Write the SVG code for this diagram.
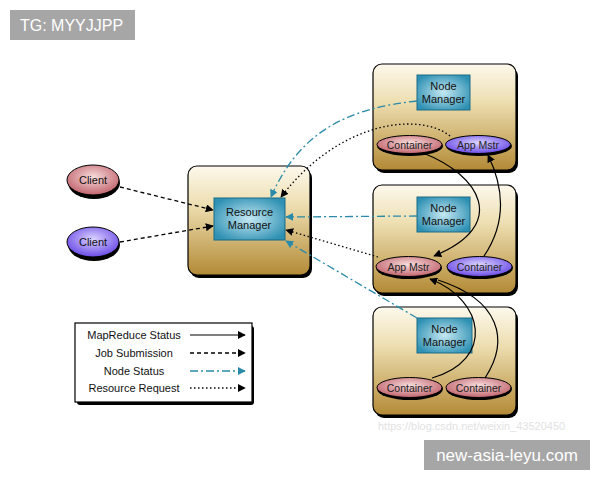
<svg xmlns="http://www.w3.org/2000/svg" width="600" height="480" viewBox="0 0 600 480">
<defs>
<linearGradient id="gBox" x1="0" y1="0" x2="0" y2="1">
<stop offset="0" stop-color="#fcf8ec"/>
<stop offset="0.35" stop-color="#eedfb2"/>
<stop offset="1" stop-color="#b38a36"/>
</linearGradient>
<radialGradient id="gTeal" cx="0.5" cy="0.5" r="0.6">
<stop offset="0" stop-color="#c4e8f2"/>
<stop offset="1" stop-color="#2e90b3"/>
</radialGradient>
<radialGradient id="gPink" cx="0.5" cy="0.4" r="0.6">
<stop offset="0" stop-color="#f7dcdc"/>
<stop offset="1" stop-color="#c1646d"/>
</radialGradient>
<radialGradient id="gPurple" cx="0.5" cy="0.4" r="0.6">
<stop offset="0" stop-color="#dcd4ff"/>
<stop offset="1" stop-color="#6a4ae6"/>
</radialGradient>
<marker id="aB" viewBox="0 0 10 10" refX="9" refY="5" markerWidth="8" markerHeight="8" markerUnits="userSpaceOnUse" orient="auto">
<path d="M0,0 L10,5 L0,10 Z" fill="#000"/>
</marker>
<marker id="aT" viewBox="0 0 10 10" refX="9" refY="5" markerWidth="8" markerHeight="8" markerUnits="userSpaceOnUse" orient="auto">
<path d="M0,0 L10,5 L0,10 Z" fill="#2a8aa8"/>
</marker>
</defs>
<style>
.box{fill:url(#gBox);stroke:#000;stroke-width:1.2}
.shadow{fill:#000}
.nm{fill:url(#gTeal);stroke:#1d6a85;stroke-width:1}
.pink{fill:url(#gPink);stroke:#000;stroke-width:1}
.purple{fill:url(#gPurple);stroke:#000;stroke-width:1}
.t{font-family:"Liberation Sans",Arial,sans-serif;font-size:11px;fill:#111;text-anchor:middle}
.ts{font-family:"Liberation Sans",Arial,sans-serif;font-size:10.5px;fill:#222;text-anchor:middle}
.solid{fill:none;stroke:#000;stroke-width:1.2}
.dash{fill:none;stroke:#000;stroke-width:1.3;stroke-dasharray:4 3}
.dot{fill:none;stroke:#000;stroke-width:1.3;stroke-dasharray:1.5 2.5}
.dd{fill:none;stroke:#2a8aa8;stroke-width:1.3;stroke-dasharray:8 3 2 3}
.wm{font-family:"Liberation Sans",Arial,sans-serif;fill:#fff}
</style>
<rect width="600" height="480" fill="#fff"/>

<g id="watermark-top">
<rect x="10" y="10" width="125" height="30" fill="#a6a6a6"/>
<text class="wm" x="20" y="31" font-size="16">TG: MYYJJPP</text>
</g>

<g id="resource-manager">
<rect class="shadow" x="190" y="169" width="122" height="109" rx="9"/>
<rect class="box" x="188" y="166" width="122" height="109" rx="9"/>
<rect class="nm" x="214" y="198" width="71" height="42"/>
<text class="t" x="249.5" y="216">Resource</text>
<text class="t" x="249.5" y="229">Manager</text>
</g>

<g id="client-1">
<ellipse class="shadow" cx="94" cy="183" rx="26" ry="16"/>
<ellipse class="pink" cx="93" cy="180" rx="26" ry="15"/>
<text class="t" x="93" y="184">Client</text>
</g>
<g id="client-2">
<ellipse class="shadow" cx="94" cy="245" rx="26" ry="16"/>
<ellipse class="purple" cx="93" cy="242" rx="26" ry="15"/>
<text class="t" x="93" y="246">Client</text>
</g>

<g id="node-1">
<rect class="shadow" x="375" y="67" width="143" height="106" rx="9"/>
<rect class="box" x="373" y="64" width="143" height="106" rx="9"/>
<rect class="nm" x="417" y="75" width="53" height="35"/>
<text class="t" x="443.5" y="90">Node</text>
<text class="t" x="443.5" y="103">Manager</text>
<ellipse class="shadow" cx="410" cy="146" rx="33" ry="10"/>
<ellipse class="pink" cx="409.5" cy="144.5" rx="32.5" ry="9"/>
<text class="ts" x="409.5" y="148.5">Container</text>
<ellipse class="shadow" cx="479" cy="146" rx="33" ry="10"/>
<ellipse class="purple" cx="478" cy="144.5" rx="32.5" ry="9"/>
<text class="ts" x="478" y="148.5">App Mstr</text>
</g>

<g id="node-2">
<rect class="shadow" x="375" y="188" width="143" height="108" rx="9"/>
<rect class="box" x="373" y="185" width="143" height="108" rx="9"/>
<rect class="nm" x="417" y="197" width="53" height="35"/>
<text class="t" x="443.5" y="212">Node</text>
<text class="t" x="443.5" y="225">Manager</text>
<ellipse class="shadow" cx="409" cy="268" rx="33" ry="11"/>
<ellipse class="pink" cx="408.5" cy="266.5" rx="32.5" ry="10"/>
<text class="ts" x="408.5" y="270.5">App Mstr</text>
<ellipse class="shadow" cx="480" cy="268" rx="33" ry="11"/>
<ellipse class="purple" cx="479.5" cy="266.5" rx="32.5" ry="10"/>
<text class="ts" x="479.5" y="270.5">Container</text>
</g>

<g id="node-3">
<rect class="shadow" x="375" y="310" width="143" height="108" rx="9"/>
<rect class="box" x="373" y="307" width="143" height="108" rx="9"/>
<rect class="nm" x="417" y="318" width="55" height="35"/>
<text class="t" x="444.5" y="333">Node</text>
<text class="t" x="444.5" y="346">Manager</text>
<ellipse class="shadow" cx="410" cy="389" rx="33" ry="11"/>
<ellipse class="pink" cx="409.5" cy="387.5" rx="32.5" ry="10"/>
<text class="ts" x="409.5" y="391.5">Container</text>
<ellipse class="shadow" cx="479" cy="389" rx="33" ry="11"/>
<ellipse class="pink" cx="478.5" cy="387.5" rx="32.5" ry="10"/>
<text class="ts" x="478.5" y="391.5">Container</text>
</g>

<g id="connectors">
<path class="dash" d="M120,187 L213,210" marker-end="url(#aB)"/>
<path class="dash" d="M120,242 L213,226" marker-end="url(#aB)"/>
<path class="dd" d="M417,101 C350,108 300,130 271,197" marker-end="url(#aT)"/>
<path class="dot" d="M450,136 C420,112 340,120 281,197" marker-end="url(#aB)"/>
<path class="dd" d="M417,216 L286,217" marker-end="url(#aT)"/>
<path class="dot" d="M378,257 L286,230" marker-end="url(#aB)"/>
<path class="dd" d="M417,318 L286,241" marker-end="url(#aT)"/>
<path class="solid" d="M423,153 C480,175 510,225 434,256" marker-end="url(#aB)"/>
<path class="solid" d="M484,256 C505,225 505,190 488,155" marker-end="url(#aB)"/>
<path class="solid" d="M432,378 C495,360 485,300 430,279" marker-end="url(#aB)"/>
<path class="solid" d="M485,378 C510,340 500,300 438,280"/>
</g>

<g id="legend">
<rect class="shadow" x="77" y="326" width="177" height="79" rx="3"/>
<rect x="75" y="323" width="177" height="79" fill="#fff" stroke="#000" stroke-width="1.2"/>
<text class="t" x="134" y="339">MapReduce Status</text>
<text class="t" x="134" y="357">Job Submission</text>
<text class="t" x="134" y="375">Node Status</text>
<text class="t" x="134" y="392">Resource Request</text>
<path class="solid" d="M190,335 L245,335" marker-end="url(#aB)"/>
<path class="dash" d="M190,353 L245,353" marker-end="url(#aB)"/>
<path class="dd" d="M190,371 L245,371" marker-end="url(#aT)"/>
<path class="dot" d="M190,388 L245,388" marker-end="url(#aB)"/>
</g>

<text x="378" y="430" font-family="Liberation Sans, Arial, sans-serif" font-size="11" fill="#e2e2e2">https://blog.csdn.net/weixin_43520450</text>

<g id="watermark-bottom">
<rect x="424" y="440" width="166" height="30" fill="#a6a6a6"/>
<text class="wm" x="507" y="461" font-size="17" text-anchor="middle">new-asia-leyu.com</text>
</g>
</svg>
